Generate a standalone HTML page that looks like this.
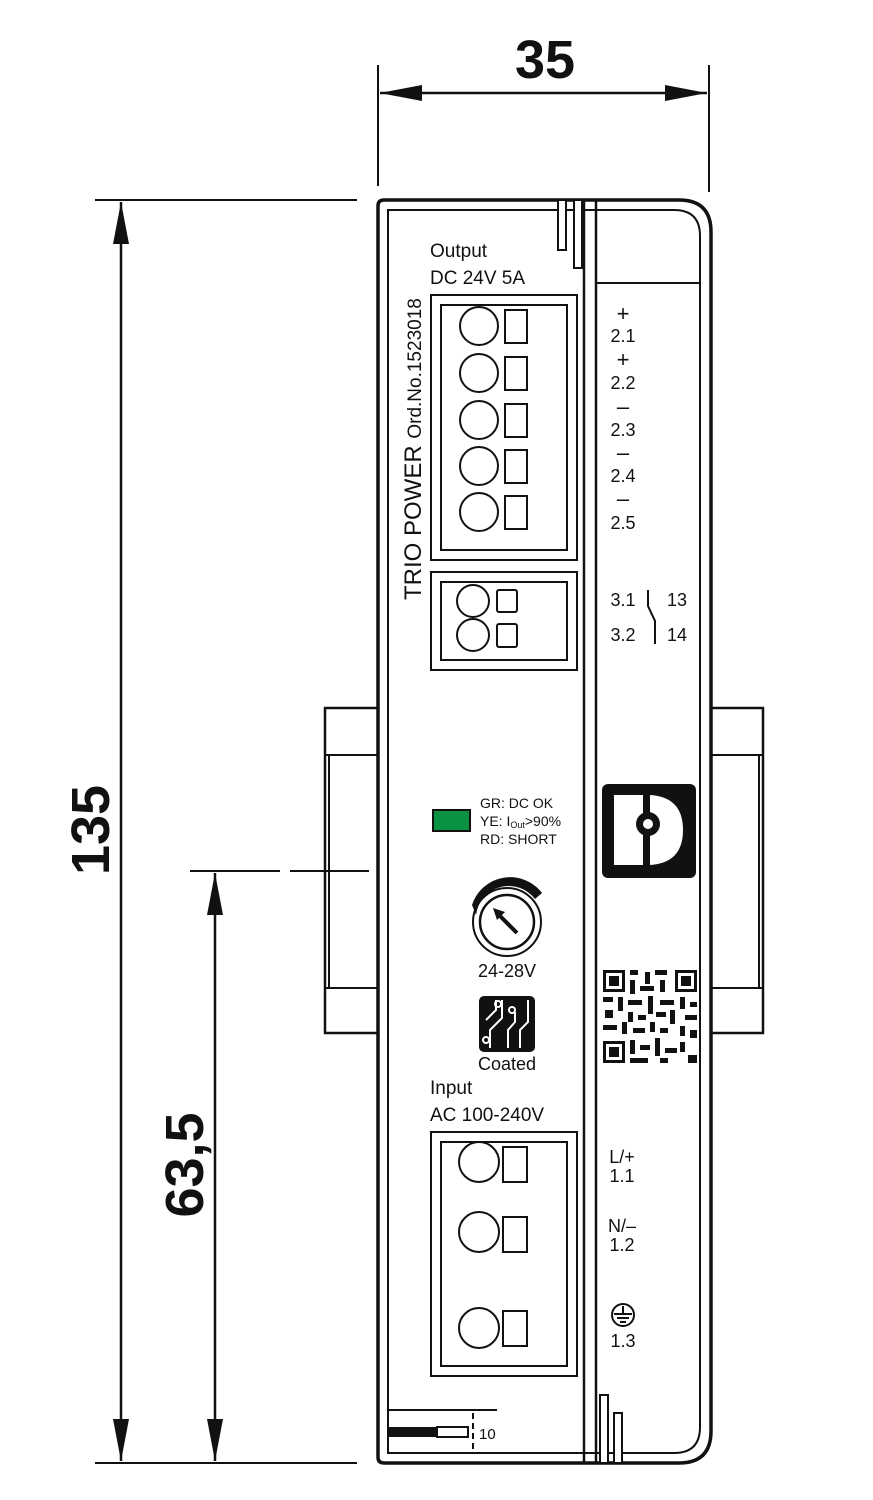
<!DOCTYPE html>
<html><head><meta charset="utf-8"><style>
html,body{margin:0;padding:0;background:#fff}
svg{display:block}
text{font-family:"Liberation Sans",sans-serif;fill:#111}
</style></head><body>
<svg width="873" height="1500" viewBox="0 0 873 1500" xmlns="http://www.w3.org/2000/svg">
<defs>
<marker id="ar" viewBox="0 0 42 16" refX="42" refY="8" markerWidth="42" markerHeight="16" markerUnits="userSpaceOnUse" orient="auto-start-reverse"><path d="M0,0 L42,8 L0,16 z" fill="#111"/></marker>
</defs>
<g stroke="#111" fill="none" stroke-width="2">
<line x1="378" y1="65" x2="378" y2="186"/>
<line x1="709" y1="65" x2="709" y2="192"/>
<line x1="380" y1="93" x2="707" y2="93" stroke-width="2.5" marker-start="url(#ar)" marker-end="url(#ar)"/>
<line x1="95" y1="200" x2="357" y2="200"/>
<line x1="95" y1="1463" x2="357" y2="1463"/>
<line x1="121" y1="202" x2="121" y2="1461" stroke-width="2.5" marker-start="url(#ar)" marker-end="url(#ar)"/>
<line x1="190" y1="871" x2="280" y2="871"/>
<line x1="290" y1="871" x2="369" y2="871"/>
<line x1="215" y1="873" x2="215" y2="1461" stroke-width="2.5" marker-start="url(#ar)" marker-end="url(#ar)"/>
<path d="M378,708 H325 V1033 H378" stroke-width="2.5"/>
<line x1="325" y1="755" x2="378" y2="755"/>
<line x1="325" y1="988" x2="378" y2="988"/>
<line x1="329" y1="755" x2="329" y2="988"/>
<path d="M711,708 H763 V1033 H711" stroke-width="2.5"/>
<line x1="711" y1="755" x2="763" y2="755"/>
<line x1="711" y1="988" x2="763" y2="988"/>
<line x1="759" y1="755" x2="759" y2="988"/>
<path d="M384,200 H679 Q711,200 711,232 V1431 Q711,1463 679,1463 H384 Q378,1463 378,1457 V206 Q378,200 384,200 Z" stroke-width="3.5" fill="#fff"/>
<path d="M388,210 H674 Q700,210 700,236 V1427 Q700,1453 674,1453 H388 Z" stroke-width="2"/>
<line x1="584" y1="200" x2="584" y2="1463" stroke-width="2.5"/>
<line x1="596" y1="200" x2="596" y2="1463" stroke-width="2.5"/>
<path d="M596,210 V283 H700" stroke-width="2"/>
<rect x="558" y="200" width="8" height="50" fill="#fff"/>
<rect x="574" y="200" width="8" height="68" fill="#fff"/>
<rect x="600" y="1395" width="8" height="68" fill="#fff"/>
<rect x="614" y="1413" width="8" height="50" fill="#fff"/>
<rect x="431" y="295" width="146" height="265"/>
<rect x="441" y="305" width="126" height="245"/>
<circle cx="479" cy="326" r="19"/><rect x="505" y="310" width="22" height="33"/>
<circle cx="479" cy="373" r="19"/><rect x="505" y="357" width="22" height="33"/>
<circle cx="479" cy="420" r="19"/><rect x="505" y="404" width="22" height="33"/>
<circle cx="479" cy="466" r="19"/><rect x="505" y="450" width="22" height="33"/>
<circle cx="479" cy="512" r="19"/><rect x="505" y="496" width="22" height="33"/>
<rect x="431" y="572" width="146" height="98"/>
<rect x="441" y="582" width="126" height="78"/>
<circle cx="473" cy="601" r="16"/><rect x="497" y="590" width="20" height="22" rx="2"/>
<circle cx="473" cy="635" r="16"/><rect x="497" y="624" width="20" height="23" rx="2"/>
<path d="M648,590 V606 L655,621 V644"/>
<rect x="431" y="1132" width="146" height="244"/>
<rect x="441" y="1142" width="126" height="224"/>
<circle cx="479" cy="1162" r="20"/><rect x="503" y="1147" width="24" height="35"/>
<circle cx="479" cy="1232" r="20"/><rect x="503" y="1217" width="24" height="35"/>
<circle cx="479" cy="1328" r="20"/><rect x="503" y="1311" width="24" height="35"/>
<circle cx="623" cy="1315" r="11"/>
<line x1="623" y1="1306" x2="623" y2="1314"/><line x1="614" y1="1314" x2="632" y2="1314"/><line x1="617" y1="1318" x2="629" y2="1318"/><line x1="620" y1="1322" x2="626" y2="1322"/>
<line x1="388" y1="1410" x2="497" y2="1410"/>
<rect x="437" y="1427" width="31" height="10"/>
<line x1="473" y1="1413" x2="473" y2="1453" stroke-dasharray="6,4"/>
<circle cx="507" cy="922" r="34"/>
<circle cx="507" cy="922" r="27" stroke-width="2.5"/>
</g>
<rect x="388" y="1427" width="49" height="10" fill="#111"/>
<path d="M472,905 A40,40 0 0 1 542,893 L535,899 A33,33 0 0 0 476,915 Z" fill="#111"/>
<line x1="517" y1="933" x2="498" y2="914" stroke="#111" stroke-width="4"/>
<path d="M493,908 L505,912 L497,920 Z" fill="#111"/>
<rect x="433" y="810" width="37" height="21" fill="#0a9142" stroke="#111" stroke-width="2"/>
<rect x="602" y="784" width="94" height="94" rx="6" fill="#111"/>
<path d="M614,795 H643 V865 H614 Z" fill="#fff"/>
<path d="M650,795 Q683,797 683,830 Q683,863 650,865 Z" fill="#fff"/>
<rect x="643" y="795" width="7" height="70" fill="#111"/>
<circle cx="648" cy="824" r="12" fill="#111"/><circle cx="648" cy="824" r="5" fill="#fff"/>
<rect x="479" y="996" width="56" height="56" rx="5" fill="#111"/>
<g stroke="#fff" stroke-width="2" fill="none">
<path d="M486,1020 L496,1010 V1000"/><path d="M490,1048 V1030 L502,1018 V1000"/><path d="M508,1048 V1030 L515,1022 V1012"/><path d="M520,1048 V1030 L528,1022 V1000"/><circle cx="486" cy="1040" r="3"/><circle cx="512" cy="1010" r="3"/><circle cx="498" cy="1004" r="3"/>
</g>
<g fill="#111">
<rect x="603" y="970" width="22" height="22"/><rect x="675" y="970" width="22" height="22"/><rect x="603" y="1041" width="22" height="22"/>
</g>
<g fill="#fff"><rect x="606" y="973" width="16" height="16"/><rect x="678" y="973" width="16" height="16"/><rect x="606" y="1044" width="16" height="16"/></g>
<g fill="#111"><rect x="609" y="976" width="10" height="10"/><rect x="681" y="976" width="10" height="10"/><rect x="609" y="1047" width="10" height="10"/>
<rect x="630" y="970" width="8" height="5"/><rect x="645" y="972" width="5" height="12"/><rect x="655" y="970" width="12" height="5"/><rect x="630" y="980" width="5" height="14"/><rect x="640" y="986" width="14" height="5"/><rect x="660" y="980" width="5" height="12"/>
<rect x="603" y="997" width="10" height="5"/><rect x="618" y="997" width="5" height="14"/><rect x="628" y="1000" width="14" height="5"/><rect x="648" y="996" width="5" height="18"/><rect x="660" y="1000" width="14" height="5"/><rect x="680" y="997" width="5" height="12"/><rect x="690" y="1002" width="7" height="5"/>
<rect x="605" y="1010" width="8" height="8"/><rect x="628" y="1012" width="5" height="10"/><rect x="638" y="1015" width="8" height="5"/><rect x="656" y="1012" width="10" height="5"/><rect x="670" y="1010" width="5" height="14"/><rect x="685" y="1015" width="12" height="5"/>
<rect x="603" y="1025" width="14" height="5"/><rect x="622" y="1022" width="5" height="12"/><rect x="633" y="1028" width="12" height="5"/><rect x="650" y="1022" width="5" height="10"/><rect x="660" y="1028" width="8" height="5"/><rect x="680" y="1026" width="5" height="10"/><rect x="690" y="1030" width="7" height="8"/>
<rect x="630" y="1040" width="5" height="14"/><rect x="640" y="1045" width="10" height="5"/><rect x="655" y="1038" width="5" height="18"/><rect x="665" y="1048" width="12" height="5"/><rect x="680" y="1042" width="5" height="10"/><rect x="688" y="1055" width="9" height="8"/><rect x="630" y="1058" width="18" height="5"/><rect x="660" y="1058" width="8" height="5"/>
</g>
<text x="545" y="78" font-size="54" font-weight="bold" text-anchor="middle">35</text>
<text transform="translate(109,830) rotate(-90)" font-size="54" font-weight="bold" text-anchor="middle">135</text>
<text transform="translate(203,1165) rotate(-90)" font-size="54" font-weight="bold" text-anchor="middle">63,5</text>
<text transform="translate(421,600) rotate(-90)" font-size="24">TRIO POWER <tspan font-size="19">Ord.No.1523018</tspan></text>
<text x="430" y="257" font-size="19">Output</text>
<text x="430" y="284" font-size="19">DC 24V 5A</text>
<g font-size="18" text-anchor="middle">
<text x="623" y="321" font-size="22">+</text><text x="623" y="342">2.1</text>
<text x="623" y="367" font-size="22">+</text><text x="623" y="389">2.2</text>
<text x="623" y="414" font-size="22">–</text><text x="623" y="436">2.3</text>
<text x="623" y="460" font-size="22">–</text><text x="623" y="482">2.4</text>
<text x="623" y="506" font-size="22">–</text><text x="623" y="529">2.5</text>
<text x="623" y="606">3.1</text><text x="623" y="641">3.2</text>
<text x="677" y="606">13</text><text x="677" y="641">14</text>
<text x="622" y="1163">L/+</text><text x="622" y="1182">1.1</text>
<text x="622" y="1232">N/–</text><text x="622" y="1251">1.2</text>
<text x="623" y="1347">1.3</text>
</g>
<g font-size="14">
<text x="480" y="808">GR: DC OK</text>
<text x="480" y="826">YE: I<tspan font-size="9" dy="2">Out</tspan><tspan dy="-2">&gt;90%</tspan></text>
<text x="480" y="844">RD: SHORT</text>
</g>
<text x="507" y="977" font-size="18" text-anchor="middle">24-28V</text>
<text x="507" y="1070" font-size="18" text-anchor="middle">Coated</text>
<text x="430" y="1094" font-size="19">Input</text>
<text x="430" y="1121" font-size="19">AC 100-240V</text>
<text x="479" y="1439" font-size="15">10</text>
</svg>
</body></html>
